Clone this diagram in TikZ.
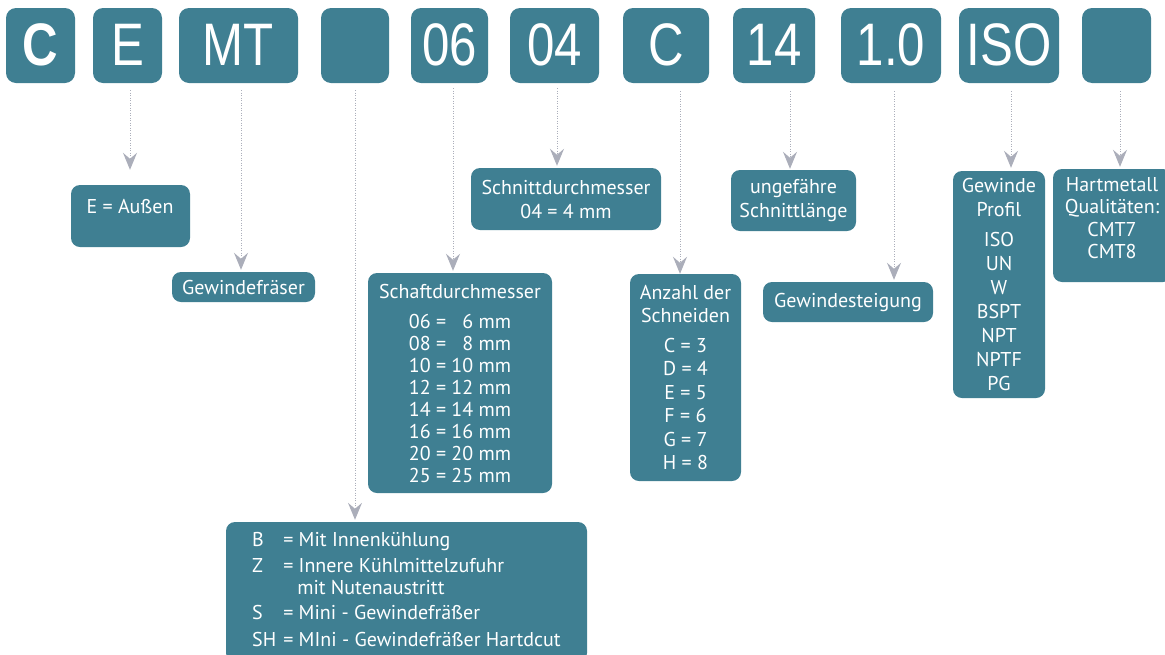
\documentclass[tikz,border=0pt]{standalone}
\usepackage{fontspec}
\setmainfont{PT Sans}
\newfontfamily\topfont{Liberation Sans}
\usetikzlibrary{arrows.meta}
\definecolor{teal1}{HTML}{3F7F92}
\definecolor{arrgray}{HTML}{ABAEBA}
\newcommand\narrowtxt[1]{\scalebox{0.82}[1]{#1}}
\begin{document}
\begin{tikzpicture}[x=1pt,y=-1pt,
  topbox/.style={fill=teal1, rounded corners=10pt, minimum height=75pt, text=white,
    font=\topfont\fontsize{60}{60}\selectfont, text height=43pt, text depth=4pt, inner sep=0pt},
  box/.style={fill=teal1, rounded corners=9pt, text=white, font=\fontsize{20}{22}\selectfont,
    align=center, inner sep=0pt},
  lbl/.style={text=white, font=\fontsize{20}{22}\selectfont, align=center, inner sep=0pt},
  conn/.style={draw=arrgray, line width=1pt, dash pattern=on 1pt off 1.5pt,
    -{Stealth[length=17pt,width=14pt,inset=6pt]}, shorten >=2pt},
]
\useasboundingbox (0,0) rectangle (1165,654);

% top code boxes
\node[topbox, minimum width=69pt]  (t1)  at (40.5,45.5)  {\narrowtxt{\bfseries C}};
\node[topbox, minimum width=69pt]  (t2)  at (127.5,45.5) {\narrowtxt{E}};
\node[topbox, minimum width=119pt] (t3)  at (238.5,45.5) {\narrowtxt{MT}};
\node[topbox, minimum width=68pt]  (t4)  at (355,45.5)   {};
\node[topbox, minimum width=77pt]  (t5)  at (449.5,45.5) {\narrowtxt{06}};
\node[topbox, minimum width=89pt]  (t6)  at (554.5,45.5) {\narrowtxt{04}};
\node[topbox, minimum width=86pt]  (t7)  at (666,45.5)   {\narrowtxt{C}};
\node[topbox, minimum width=82pt]  (t8)  at (774,45.5)   {\narrowtxt{14}};
\node[topbox, minimum width=100pt] (t9)  at (891,45.5)   {\narrowtxt{1.0}};
\node[topbox, minimum width=100pt] (t10) at (1009,45.5)  {\narrowtxt{ISO}};
\node[topbox, minimum width=69pt]  (t11) at (1116.5,45.5){};

% explanation boxes
\node[box, minimum width=119pt, minimum height=62pt] (b2) at (130.5,216) {};
\node[lbl] (l2) at (130,207) {E = Außen};
\node[box, minimum width=143pt, minimum height=30pt] (b3) at (243.5,287) {Gewindefräser};
\node[box, minimum width=361pt, minimum height=140pt] (b4) at (406.5,592) {%
  \begin{tabular}{@{}l@{\hspace{7pt}}l@{}}
  B & = Mit Innenkühlung\\[4pt]
  Z & = Innere Kühlmittelzufuhr\\
    & \hspace{14pt}mit Nutenaustritt\\[3pt]
  S & = Mini - Gewindefräßer\\[5pt]
  SH & = MIni - Gewindefräßer Hartdcut
  \end{tabular}};
\node[box, minimum width=184pt, minimum height=220pt] (b5) at (460,383) {%
  Schaftdurchmesser\\[8pt]
  06 = \hphantom{0}6 mm\\
  08 = \hphantom{0}8 mm\\
  10 = 10 mm\\
  12 = 12 mm\\
  14 = 14 mm\\
  16 = 16 mm\\
  20 = 20 mm\\
  25 = 25 mm};
\node[box, minimum width=190pt, minimum height=62pt] (b6) at (566,199) {Schnittdurchmesser\\[2pt]04 = 4 mm};
\node[box, minimum width=111pt, minimum height=207pt, font=\fontsize{20}{23.5}\selectfont] (b7) at (685.5,377.5)
  {Anzahl der\\Schneiden\\[6pt]C = 3\\D = 4\\E = 5\\F = 6\\G = 7\\H = 8};
\node[box, minimum width=125pt, minimum height=61pt] (b8) at (793.5,200.5) {ungefähre\\[2pt]Schnittlänge};
\node[box, minimum width=170pt, minimum height=40pt] (b9) at (848,302) {Gewindesteigung};
\node[box, minimum width=92pt, minimum height=227pt, font=\fontsize{20}{24}\selectfont] (b10) at (999,284.5)
  {Gewinde\\Profil\\[6pt]ISO\\UN\\W\\BSPT\\NPT\\NPTF\\PG};
\node[box, minimum width=119pt, minimum height=113pt] (b11) at (1112.5,225.5) {};
\node[lbl, font=\fontsize{20}{22.5}\selectfont] (l11) at (1112,218) {Hartmetall\\Qualitäten:\\CMT7\\CMT8};

% connector start points
\path ([xshift=2.5pt,yshift=-7pt]t2.south) coordinate (s2);
\path ([xshift=2.5pt,yshift=-7pt]t3.south) coordinate (s3);
\path ([xshift=0pt,yshift=-7pt]t4.south) coordinate (s4);
\path ([xshift=3.5pt,yshift=-5pt]t5.south) coordinate (s5);
\path ([xshift=2.5pt,yshift=-5pt]t6.south) coordinate (s6);
\path ([xshift=14pt,yshift=-8pt]t7.south) coordinate (s7);
\path ([xshift=16pt,yshift=-8pt]t8.south) coordinate (s8);
\path ([xshift=3pt,yshift=-8pt]t9.south) coordinate (s9);
\path ([xshift=2pt,yshift=-8pt]t10.south) coordinate (s10);
\path ([xshift=3.5pt,yshift=-8pt]t11.south) coordinate (s11);

\draw[conn, shorten >=15pt] (s2) -- (s2 |- b2.north);
\draw[conn] (s3) -- (s3 |- b3.north);
\draw[conn] (s4) -- (s4 |- b4.north);
\draw[conn] (s5) -- (s5 |- b5.north);
\draw[conn] (s6) -- (s6 |- b6.north);
\draw[conn, shorten >=0pt] (s7) -- (s7 |- b7.north);
\draw[conn, shorten >=1pt] (s8) -- (s8 |- b8.north);
\draw[conn] (s9) -- (s9 |- b9.north);
\draw[conn, shorten >=3pt] (s10) -- (s10 |- b10.north);
\draw[conn] (s11) -- (s11 |- b11.north);
\end{tikzpicture}
\end{document}
